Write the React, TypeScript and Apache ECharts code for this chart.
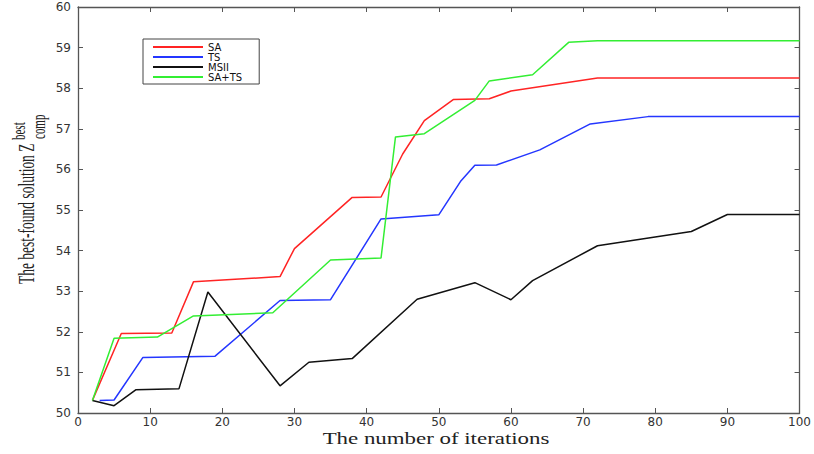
import React, { useEffect, useRef } from 'react';
import * as echarts from 'echarts';

// Iteration (x) and best-found solution (y) values per algorithm
const saX = [2, 6, 13, 16, 28, 30, 38, 42, 45, 48, 52, 57, 60, 72, 100];
const saY = [50.31, 51.96, 51.97, 53.23, 53.36, 54.05, 55.31, 55.32, 56.38, 57.2, 57.72, 57.74, 57.93, 58.25, 58.25];

const tsX = [3, 5, 9, 19, 28, 35, 42, 50, 53, 55, 58, 64, 71, 79, 100];
const tsY = [50.31, 50.32, 51.37, 51.4, 52.77, 52.79, 54.78, 54.88, 55.7, 56.1, 56.11, 56.48, 57.12, 57.3, 57.3];

const msX = [2, 5, 8, 14, 18, 28, 32, 38, 47, 55, 60, 63, 72, 85, 90, 100];
const msY = [50.31, 50.18, 50.57, 50.6, 52.98, 50.67, 51.25, 51.34, 52.8, 53.21, 52.79, 53.26, 54.12, 54.47, 54.89, 54.89];

const stX = [2, 5, 11, 16, 27, 35, 42, 44, 48, 55, 57, 63, 68, 72, 100];
const stY = [50.31, 51.84, 51.87, 52.39, 52.47, 53.77, 53.82, 56.8, 56.88, 57.7, 58.18, 58.33, 59.13, 59.17, 59.17];

const seriesNames = ['SA', 'TS', 'MSII', 'SA+TS'];
const seriesColors = ['#ff2424', '#2436ff', '#111111', '#33ee33'];

const xTitle = 'The number of iterations';
const yTitleMain = 'The best-found solution Z';
const yTitleSup = 'best';
const yTitleSub = 'comp';

const pairs = (xs: number[], ys: number[]) => xs.map((x, i) => [x, ys[i]]);

export default function App() {
  const ref = useRef<HTMLDivElement>(null);

  useEffect(() => {
    document.body.style.margin = '0';
    if (!ref.current) return;
    const chart = echarts.init(ref.current, undefined, { renderer: 'svg' });
    const axisColor = '#555';
    const labelStyle = { fontFamily: 'DejaVu Sans', fontSize: 12, color: '#333' };
    const serif = 'Liberation Serif';
    const data = [pairs(saX, saY), pairs(tsX, tsY), pairs(msX, msY), pairs(stX, stY)];

    const xBase = {
      type: 'value' as const,
      min: 0,
      max: 100,
      interval: 10,
      splitLine: { show: false },
      axisLine: { show: true, lineStyle: { color: axisColor, width: 1.3 } },
      axisTick: { show: true, inside: true, length: 5, lineStyle: { color: axisColor, width: 1 } },
    };
    const yBase = {
      type: 'value' as const,
      min: 50,
      max: 60,
      interval: 1,
      splitLine: { show: false },
      axisLine: { show: true, onZero: false, lineStyle: { color: axisColor, width: 1.3 } },
      axisTick: { show: true, inside: true, length: 5, lineStyle: { color: axisColor, width: 1 } },
    };

    chart.setOption({
      animation: false,
      backgroundColor: '#fff',
      grid: { left: 78, right: 14, top: 7, bottom: 41, containLabel: false },
      xAxis: [
        { ...xBase, position: 'bottom', axisLabel: { ...labelStyle, margin: 3 } },
        { ...xBase, position: 'top', axisLabel: { show: false } },
      ],
      yAxis: [
        { ...yBase, position: 'left', axisLabel: { ...labelStyle, margin: 7 } },
        { ...yBase, position: 'right', axisLabel: { show: false } },
      ],
      legend: {
        orient: 'vertical',
        left: 143,
        top: 39,
        padding: [3, 17, 2, 10],
        itemGap: 0,
        itemWidth: 50,
        itemHeight: 2,
        icon: 'rect',
        backgroundColor: '#fff',
        borderColor: '#444',
        borderWidth: 1,
        borderRadius: 0,
        textStyle: { fontFamily: 'DejaVu Sans', fontSize: 10, lineHeight: 10, color: '#111', padding: [0, 0, 0, 0] },
        data: seriesNames,
      },
      series: seriesNames.map((name, i) => ({
        name,
        type: 'line',
        xAxisIndex: 0,
        yAxisIndex: 0,
        data: data[i],
        showSymbol: false,
        symbol: 'none',
        lineStyle: { color: seriesColors[i], width: 1.5 },
        itemStyle: { color: seriesColors[i] },
        z: i === 3 ? 3 : 2,
      })),
      graphic: [
        {
          type: 'text',
          x: 436,
          y: 438,
          scaleX: 1.43,
          style: {
            text: xTitle,
            fontFamily: serif,
            fontSize: 16,
            fill: '#222',
            align: 'center',
            verticalAlign: 'middle',
          },
        },
        {
          type: 'group',
          x: 26.5,
          y: 284,
          rotation: Math.PI / 2,
          scaleY: 1.74,
          children: [
            {
              type: 'text',
              x: 0,
              y: 0,
              style: { text: yTitleMain, fontFamily: serif, fontSize: 13.5, fill: '#222', align: 'left', verticalAlign: 'middle' },
            },
            {
              type: 'text',
              x: 144,
              y: -5,
              style: { text: yTitleSup, fontFamily: serif, fontSize: 11, fill: '#222', align: 'left', verticalAlign: 'middle' },
            },
            {
              type: 'text',
              x: 145,
              y: 6.5,
              style: { text: yTitleSub, fontFamily: serif, fontSize: 11, fill: '#222', align: 'left', verticalAlign: 'middle' },
            },
          ],
        },
      ],
    });
    return () => chart.dispose();
  }, []);

  return <div ref={ref} style={{ width: 814, height: 454 }} />;
}
